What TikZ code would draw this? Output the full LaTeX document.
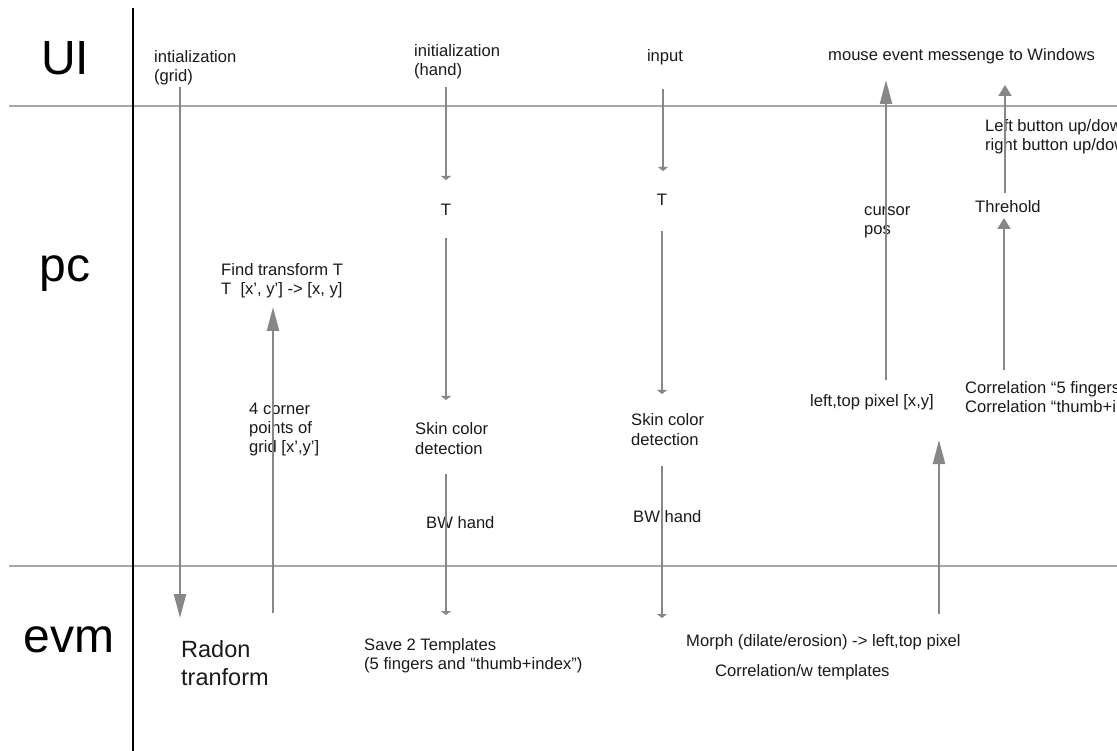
\documentclass[tikz,border=0pt]{standalone}
\usepackage{fontspec}
\setmainfont{Liberation Sans}
\usetikzlibrary{arrows.meta}
\definecolor{lanegray}{HTML}{A8A8A8}
\definecolor{arrgray}{HTML}{878787}
\definecolor{txtcol}{HTML}{1A1A1A}
\begin{document}
\begin{tikzpicture}[x=1pt,y=-1pt,
  laneline/.style={draw=lanegray,line width=2.5pt},
  axisline/.style={draw=black,line width=2.5pt},
  bigarrow/.style={draw=arrgray,line width=2.2pt,-{Triangle[length=24pt,width=12pt]}},
  midarrow/.style={draw=arrgray,line width=2pt,-{Triangle[length=11pt,width=13pt]}},
  smallarrow/.style={draw=arrgray,line width=2pt,-{Triangle[length=4pt,width=10pt]}},
  lbl/.style={font=\fontsize{16.6}{19.2}\selectfont,text=txtcol,inner sep=0pt,align=left,anchor=west},
  biglbl/.style={font=\fontsize{23.5}{28}\selectfont,text=txtcol,inner sep=0pt,align=left,anchor=west},
  lanelbl/.style={font=\fontsize{48}{50}\selectfont,text=black,inner sep=0pt},
]
\useasboundingbox (0,0) rectangle (1117,751);
\clip (0,0) rectangle (1117,751);
\fill[white] (0,0) rectangle (1117,751);

% lanes
\coordinate (l1a) at (9,106);  \coordinate (l1b) at (1117,106);
\coordinate (l2a) at (9,566);  \coordinate (l2b) at (1117,566);
\coordinate (va) at (133,8);   \coordinate (vb) at (133,751);
\draw[laneline] (l1a) -- (l1b);
\draw[laneline] (l2a) -- (l2b);
\draw[axisline] (va) -- (vb);

% lane labels
\node[lanelbl] (ui) at (65,58) {UI};
\node[lanelbl] (pc) at (65,274) {pc};
\node[lanelbl] (evm) at (69,640) {evm};

% texts
\node[lbl] (initgrid) at (154,67.5) {intialization\\(grid)};
\node[lbl] (inithand) at (414,61.5) {initialization\\(hand)};
\node[lbl,anchor=center] (input) at (665,57) {input};
\node[lbl] (mouse) at (828,56) {mouse event messenge to Windows};
\node[lbl,anchor=center] (t1) at (446,210) {T};
\node[lbl,anchor=center] (t2) at (662,200) {T};
\node[lbl] (find) at (221,280.5) {Find transform T\\T\ \ [x’, y’] -> [x, y]};
\node[lbl] (corner) at (249,429.5) {4 corner\\points of\\grid [x’,y’]};
\node[lbl] (skin1) at (415,438.5) {Skin color\\detection};
\node[lbl] (skin2) at (631,429.5) {Skin color\\detection};
\node[lbl] (bw1) at (426,523) {BW hand};
\node[lbl] (bw2) at (633,517) {BW hand};
\node[lbl] (cursor) at (864,222) {cursor\\pos};
\node[lbl] (buttons) at (985,136.5) {Left button up/down\\right button up/down};
\node[lbl] (thr) at (975,207) {Threhold};
\node[lbl] (ltp) at (810,402) {left,top pixel [x,y]};
\node[lbl] (corr) at (965,397) {Correlation “5 fingers”\\Correlation “thumb+index”};
\node[biglbl] (radon) at (181,663) {Radon\\tranform};
\node[lbl] (save) at (364,655.5) {Save 2 Templates\\(5 fingers and “thumb+index”)};
\node[lbl] (morph) at (686,642) {Morph (dilate/erosion) -> left,top pixel};
\node[lbl] (corrw) at (715,672) {Correlation/w templates};

% arrow end points
\coordinate (ga) at (180,87);   \coordinate (gb) at (180,618);
\coordinate (ua) at (273,613);  \coordinate (ub) at (273,307);
\coordinate (h1a) at (446,87);  \coordinate (h1b) at (446,180);
\coordinate (h2a) at (446,238); \coordinate (h2b) at (446,400);
\coordinate (h3a) at (446,474); \coordinate (h3b) at (446,615);
\coordinate (i1a) at (663,89);  \coordinate (i1b) at (663,171);
\coordinate (i2a) at (662,231); \coordinate (i2b) at (662,394);
\coordinate (i3a) at (662,466); \coordinate (i3b) at (662,618);
\coordinate (ca) at (886,380);  \coordinate (cb) at (886,80);
\coordinate (t1a) at (1005,193); \coordinate (t1b) at (1005,85);
\coordinate (t2a) at (1004,370); \coordinate (t2b) at (1004,218);
\coordinate (ra) at (939,614);  \coordinate (rb) at (939,440);

\draw[bigarrow] (ga) -- (gb);
\draw[bigarrow] (ua) -- (ub);
\draw[smallarrow] (h1a) -- (h1b);
\draw[smallarrow] (h2a) -- (h2b);
\draw[smallarrow] (h3a) -- (h3b);
\draw[smallarrow] (i1a) -- (i1b);
\draw[smallarrow] (i2a) -- (i2b);
\draw[smallarrow] (i3a) -- (i3b);
\draw[bigarrow] (ca) -- (cb);
\draw[midarrow] (t1a) -- (t1b);
\draw[midarrow] (t2a) -- (t2b);
\draw[bigarrow] (ra) -- (rb);
\end{tikzpicture}
\end{document}
